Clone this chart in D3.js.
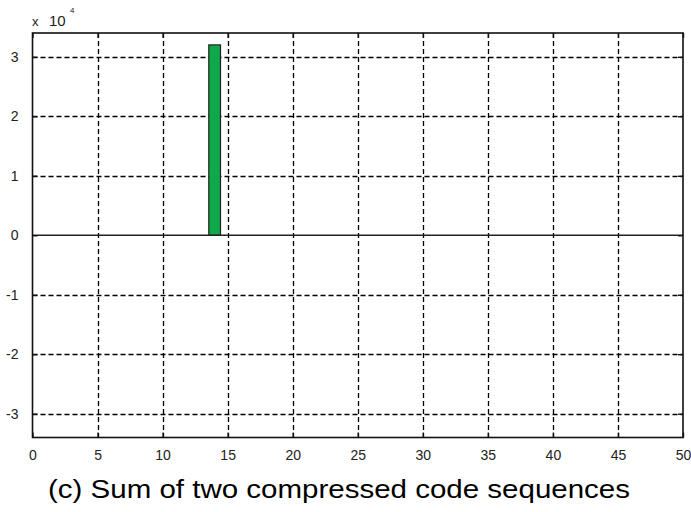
<!DOCTYPE html>
<html><head><meta charset="utf-8">
<script src="https://cdn.jsdelivr.net/npm/d3@7"></script>
<style>body{margin:0;background:#fff}svg{display:block}</style>
</head><body>
<svg id="c" width="691" height="512"></svg>
<script>
const barIndex = [14];
const barValues = [32000];
const xTicks = [0,5,10,15,20,25,30,35,40,45,50];
const yTicks = [-3,-2,-1,0,1,2,3];
const yScaleFactor = 10000;
const caption = "(c) Sum of two compressed code sequences";

const svg = d3.select("#c");
const L=32.5, R=683, T=33, B=437.5;
const x = d3.scaleLinear().domain([0,50]).range([L,R]);
const y = d3.scaleLinear().domain([-3.4,3.4]).range([B,T]);
const g = svg.append("g");

// grid
g.selectAll(".vg").data(xTicks.filter(d=>d>0&&d<50)).enter().append("line")
 .attr("x1",d=>Math.round(x(d))+0.5).attr("x2",d=>Math.round(x(d))+0.5).attr("y1",T).attr("y2",B)
 .attr("stroke","#000").attr("stroke-width",1.3).attr("stroke-dasharray","5,3");
g.selectAll(".hg").data(yTicks.filter(d=>d!==0)).enter().append("line")
 .attr("y1",d=>Math.round(y(d))+0.5).attr("y2",d=>Math.round(y(d))+0.5).attr("x1",L).attr("x2",R)
 .attr("stroke","#000").attr("stroke-width",1.3).attr("stroke-dasharray","5,3");

// bars
const bw = 0.9;
g.selectAll(".bar").data(barIndex).enter().append("rect")
 .attr("x",(d)=>x(d-bw/2)).attr("width",x(bw)-x(0))
 .attr("y",(d,i)=>y(barValues[i]/yScaleFactor)).attr("height",(d,i)=>y(0)-y(barValues[i]/yScaleFactor))
 .attr("fill","#0fa84a").attr("stroke","#222").attr("stroke-width",1.2);

// zero line
g.append("line").attr("x1",L).attr("x2",R).attr("y1",y(0)).attr("y2",y(0)).attr("stroke","#222").attr("stroke-width",1.6);

// box
g.append("rect").attr("x",L).attr("y",T).attr("width",R-L).attr("height",B-T)
 .attr("fill","none").attr("stroke","#111").attr("stroke-width",1.6);

// axes ticks (inward)
const fmt = d => String(d);
const xb = d3.axisBottom(x).tickValues(xTicks).tickSizeInner(-5).tickSizeOuter(0).tickPadding(13).tickFormat(fmt);
const xt = d3.axisTop(x).tickValues(xTicks).tickSizeInner(-5).tickSizeOuter(0).tickFormat("");
const yl = d3.axisLeft(y).tickValues(yTicks).tickSizeInner(-5).tickSizeOuter(0).tickPadding(14).tickFormat(fmt);
const yr = d3.axisRight(y).tickValues(yTicks).tickSizeInner(-5).tickSizeOuter(0).tickFormat("");
function style(sel){sel.select(".domain").remove();sel.selectAll("line").attr("stroke","#111").attr("stroke-width",1.4);
 sel.selectAll("text").attr("font-family","Liberation Sans, Arial, sans-serif").attr("font-size",14).attr("fill","#222");}
svg.append("g").attr("transform",`translate(0,${B})`).call(xb).call(style);
svg.append("g").attr("transform",`translate(0,${T})`).call(xt).call(style);
svg.append("g").attr("transform",`translate(${L},0)`).call(yl).call(style);
svg.append("g").attr("transform",`translate(${R},0)`).call(yr).call(style);

// exponent label
const lf = "Liberation Sans, Arial, sans-serif";
svg.append("text").attr("x",32).attr("y",26).attr("font-family",lf).attr("font-size",13).attr("fill","#222").text("x");
svg.append("text").attr("x",49).attr("y",26).attr("font-family",lf).attr("font-size",15).attr("fill","#222").text("10");
svg.append("text").attr("x",70).attr("y",13).attr("font-family",lf).attr("font-size",8).attr("fill","#222").text("4");

svg.append("text").attr("x",339).attr("y",498).attr("text-anchor","middle")
 .attr("textLength",582).attr("lengthAdjust","spacingAndGlyphs")
 .attr("font-family",lf).attr("font-size",25).attr("fill","#000").text(caption);
</script>
</body></html>
